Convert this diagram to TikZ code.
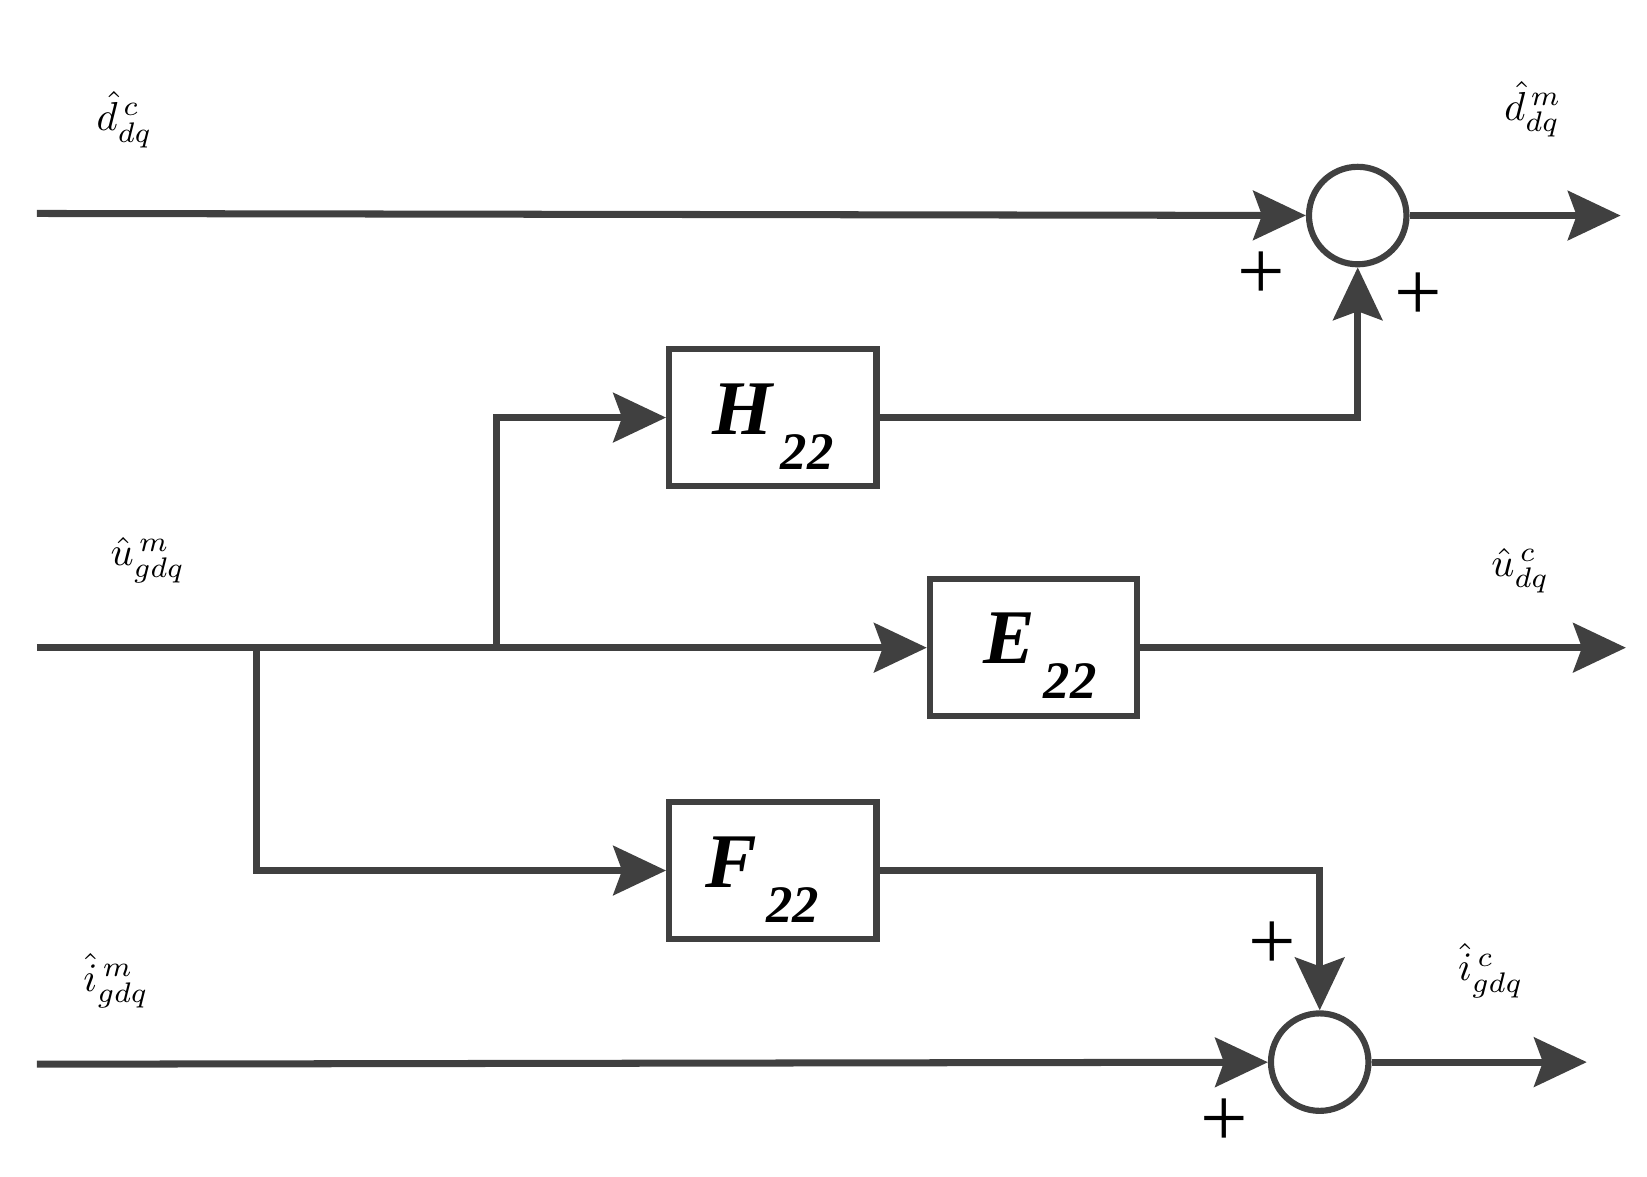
\documentclass[tikz,border=0pt]{standalone}
\usetikzlibrary{arrows.meta}
\usepackage{fontspec}
\setmainfont{Liberation Serif}
\definecolor{dg}{HTML}{404040}
\newcommand{\mybigmath}[1]{\scalebox{2.3}{$#1$}}
\begin{document}
\begin{tikzpicture}[x=0.02112cm,y=-0.02083cm,
  ln/.style={draw=dg,line width=4pt},
  ar/.style={ln,-{Stealth[length=30pt,width=28pt,inset=5pt]}},
  blk/.style={draw=dg,line width=3.5pt,minimum width=4.15cm,minimum height=2.74cm,inner sep=0pt},
  sum/.style={circle,draw=dg,line width=3.5pt,minimum size=1.95cm,inner sep=0pt},
  lbl/.style={inner sep=0pt},
  bl/.style={font=\fontsize{44}{44}\selectfont\bfseries\itshape},
  pl/.style={font=\fontsize{48}{48}\selectfont}]
\useasboundingbox (0,0) rectangle (1560,1130);
\node[blk] (H) at (732,401) {};
\node[bl] at (732,410) {H\raisebox{-0.45em}{\fontsize{30}{30}\selectfont\,22}};
\node[blk] (E) at (979,622) {};
\node[bl] at (985,630) {E\raisebox{-0.45em}{\fontsize{30}{30}\selectfont\,22}};
\node[blk] (F) at (732,836) {};
\node[bl] at (722,845) {F\raisebox{-0.45em}{\fontsize{30}{30}\selectfont\,22}};
\node[sum] (S1) at (1286,207) {};
\node[sum] (S2) at (1250,1020) {};
\coordinate (a1) at (35,205);
\coordinate (a2) at (1535,207);
\coordinate (b1) at (35,622);
\coordinate (bj) at (243,622);
\coordinate (bk) at (470,622);
\coordinate (b2) at (1540,622);
\coordinate (c1) at (35,1022);
\coordinate (c2) at (1503,1020);
\draw[ar] (a1) -- (S1);
\draw[ar] (S1) -- (a2);
\draw[ln] (b1) -- (bk);
\draw[ar] (bk) -- (E);
\draw[ar] (E) -- (b2);
\draw[ar] (bk) |- (H);
\draw[ar] (bj) |- (F);
\draw[ar] (H) -| (S1);
\draw[ar] (F) -| (S2);
\draw[ar] (c1) -- (S2);
\draw[ar] (S2) -- (c2);
\node[pl] (p1) at (1195,265) {+};
\node[pl] (p2) at (1343,285) {+};
\node[pl] (p3) at (1205,908) {+};
\node[pl] (p4) at (1160,1078) {+};
\node[lbl] (l1) at (118,115) {\mybigmath{\hat{d}^{\,c}_{dq}}};
\node[lbl] (l2) at (1452,105) {\mybigmath{\hat{d}^{\,m}_{dq}}};
\node[lbl] (l3) at (140,538) {\mybigmath{\hat{u}^{\,m}_{gdq}}};
\node[lbl] (l4) at (1440,548) {\mybigmath{\hat{u}^{\,c}_{dq}}};
\node[lbl] (l5) at (110,942) {\mybigmath{\hat{i}^{\,m}_{gdq}}};
\node[lbl] (l6) at (1412,932) {\mybigmath{\hat{i}^{\,c}_{gdq}}};
\end{tikzpicture}
\end{document}
